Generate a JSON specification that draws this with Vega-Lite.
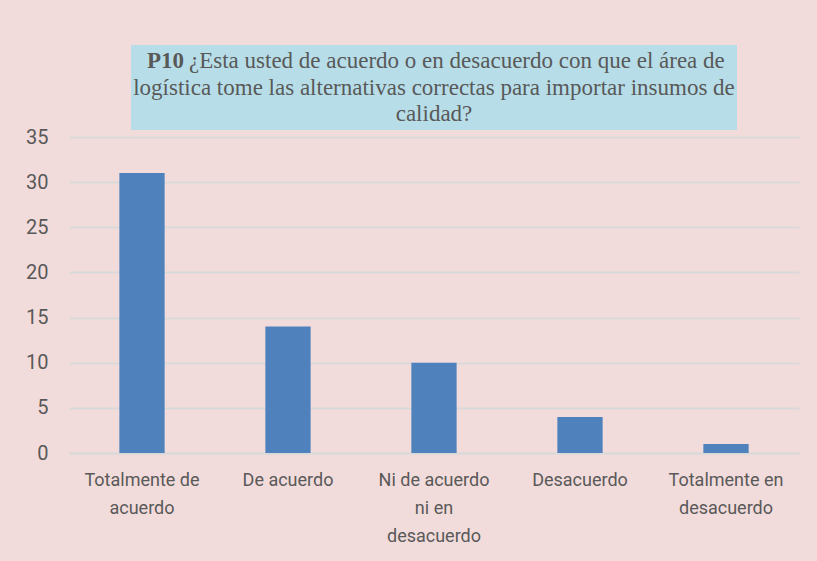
{
  "$schema": "https://vega.github.io/schema/vega-lite/v6.json",
  "background": "#F2DCDB",
  "padding": {"left": 25, "top": 45, "right": 18, "bottom": 18},
  "bounds": "flush",
  "center": true,
  "spacing": 7,
  "config": {"view": {"stroke": null}, "font": "Roboto"},
  "datasets": {
    "titulo": [
      {"line": 1, "part": "bold", "text": "P10"},
      {"line": 1, "part": "normal", "text": "¿Esta usted de acuerdo o en desacuerdo con que el área de"},
      {"line": 2, "part": "center", "text": "logística tome las alternativas correctas para importar insumos de"},
      {"line": 3, "part": "center", "text": "calidad?"}
    ],
    "respuestas": [
      {"categoria": "Totalmente de acuerdo", "n": 31},
      {"categoria": "De acuerdo", "n": 14},
      {"categoria": "Ni de acuerdo ni en desacuerdo", "n": 10},
      {"categoria": "Desacuerdo", "n": 4},
      {"categoria": "Totalmente en desacuerdo", "n": 1}
    ]
  },
  "vconcat": [
    {
      "width": 606,
      "height": 85,
      "view": {"fill": "#B7DEE8", "stroke": null},
      "data": {"name": "titulo"},
      "encoding": {
        "y": {"field": "line", "type": "ordinal", "scale": {"type": "point", "padding": 0.6}, "axis": null},
        "text": {"field": "text"}
      },
      "layer": [
        {
          "transform": [{"filter": "datum.part == 'bold'"}],
          "mark": {"type": "text", "font": "Liberation Serif", "fontSize": 23, "fontWeight": "bold", "color": "#595959", "align": "right", "dx": -250}
        },
        {
          "transform": [{"filter": "datum.part == 'normal'"}],
          "mark": {"type": "text", "font": "Liberation Serif", "fontSize": 23, "color": "#595959", "align": "left", "dx": -245}
        },
        {
          "transform": [{"filter": "datum.part == 'center'"}],
          "mark": {"type": "text", "font": "Liberation Serif", "fontSize": 23, "color": "#595959", "align": "center"}
        }
      ]
    },
    {
      "width": 730,
      "height": 316,
      "data": {"name": "respuestas"},
      "mark": {"type": "bar", "color": "#4F81BD"},
      "encoding": {
        "x": {
          "field": "categoria",
          "type": "nominal",
          "sort": null,
          "scale": {"paddingInner": 0.69, "paddingOuter": 0.345},
          "axis": {
            "title": null,
            "labelAngle": 0,
            "labelFont": "Roboto",
            "labelFontSize": 18,
            "labelColor": "#595959",
            "labelLineHeight": 28,
            "labelPadding": 18,
            "ticks": false,
            "domainColor": "#D9D9D9",
            "domainWidth": 2,
            "labelExpr": "datum.label == 'Totalmente de acuerdo' ? ['Totalmente de', 'acuerdo'] : datum.label == 'Ni de acuerdo ni en desacuerdo' ? ['Ni de acuerdo', 'ni en', 'desacuerdo'] : datum.label == 'Totalmente en desacuerdo' ? ['Totalmente en', 'desacuerdo'] : datum.label"
          }
        },
        "y": {
          "field": "n",
          "type": "quantitative",
          "scale": {"domain": [0, 35]},
          "axis": {
            "title": null,
            "values": [0, 5, 10, 15, 20, 25, 30, 35],
            "grid": true,
            "gridColor": "#D9D9D9",
            "gridWidth": 2,
            "domain": false,
            "ticks": false,
            "labelFont": "Roboto",
            "labelFontSize": 20,
            "labelColor": "#595959",
            "labelPadding": 21
          }
        }
      }
    }
  ]
}
